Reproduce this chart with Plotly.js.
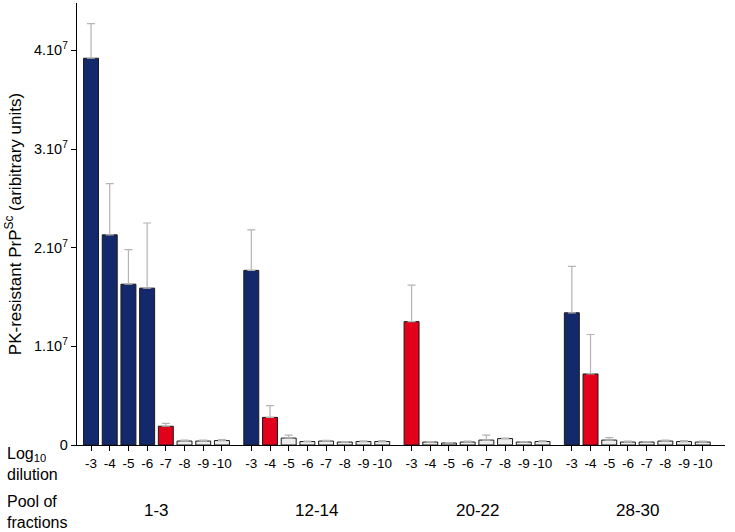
<!DOCTYPE html>
<html>
<head>
<meta charset="utf-8">
<script src="https://cdn.plot.ly/plotly-3.0.1.min.js"></script>
<style>
  body { margin: 0; background: #fff; }
  #chart { width: 735px; height: 532px; }
</style>
</head>
<body>
<div id="chart"></div>
<script>
// pools of fractions and dilutions
const pools = ["1-3", "12-14", "20-22", "28-30"];
const dilutions = ["-3", "-4", "-5", "-6", "-7", "-8", "-9", "-10"];

// PrPSc signal per pool (arbitrary units), one value per dilution
const pool1 = [3.92e7, 2.13e7, 1.63e7, 1.59e7, 0.19e7, 0.04e7, 0.04e7, 0.045e7];
const pool12 = [1.77e7, 0.28e7, 0.07e7, 0.035e7, 0.04e7, 0.03e7, 0.035e7, 0.035e7];
const pool20 = [1.25e7, 0.03e7, 0.02e7, 0.03e7, 0.05e7, 0.065e7, 0.03e7, 0.035e7];
const pool28 = [1.34e7, 0.72e7, 0.05e7, 0.03e7, 0.03e7, 0.04e7, 0.035e7, 0.03e7];

// upper error bars
const err1 = [0.35e7, 0.52e7, 0.35e7, 0.66e7, 0.03e7, 0.01e7, 0.01e7, 0.01e7];
const err12 = [0.41e7, 0.12e7, 0.03e7, 0.005e7, 0.008e7, 0.005e7, 0.008e7, 0.01e7];
const err20 = [0.37e7, 0.005e7, 0.005e7, 0.01e7, 0.05e7, 0.005e7, 0.005e7, 0.01e7];
const err28 = [0.47e7, 0.40e7, 0.025e7, 0.01e7, 0.005e7, 0.01e7, 0.01e7, 0.01e7];

// outcome per bar: b = blue, r = red, g = empty/grey
const class1 = ["b", "b", "b", "b", "r", "g", "g", "g"];
const class12 = ["b", "r", "g", "g", "g", "g", "g", "g"];
const class20 = ["r", "g", "g", "g", "g", "g", "g", "g"];
const class28 = ["b", "r", "g", "g", "g", "g", "g", "g"];

const values = [pool1, pool12, pool20, pool28];
const errors = [err1, err12, err20, err28];
const classes = [class1, class12, class20, class28];

const colorOf = { b: "#14296b", r: "#e2001b", g: "#ececec" };
const groupStep = 8.57;

let xs = [], ys = [], es = [], cols = [], tickText = [];
values.forEach((vals, g) => {
  vals.forEach((v, i) => {
    xs.push(g * groupStep + i);
    ys.push(v);
    es.push(errors[g][i]);
    cols.push(colorOf[classes[g][i]]);
    tickText.push(dilutions[i]);
  });
});

const trace = {
  type: "bar",
  x: xs, y: ys,
  width: 0.8,
  marker: { color: cols, line: { color: "#1a1a1a", width: 1 } },
  error_y: { type: "data", array: es, arrayminus: es.map(() => 0), symmetric: false,
             color: "#b4b4b4", thickness: 1.2, width: 4 },
  hoverinfo: "y"
};

const font = "Liberation Sans, Arial, sans-serif";

let annotations = pools.map((p, g) => ({
  text: p, x: g * groupStep + 3.5, xref: "x", y: -0.149, yref: "paper",
  yanchor: "middle", showarrow: false, font: { family: font, size: 17, color: "#000" }
}));
annotations.push({
  text: "Log<sub>10</sub><br>dilution", x: -0.111, xref: "paper", y: -0.043, yref: "paper",
  xanchor: "left", yanchor: "middle", align: "left", showarrow: false,
  font: { family: font, size: 16, color: "#000" }
});
annotations.push({
  text: "Pool of<br>fractions", x: -0.111, xref: "paper", y: -0.151, yref: "paper",
  xanchor: "left", yanchor: "middle", align: "left", showarrow: false,
  font: { family: font, size: 16, color: "#000" }
});

const layout = {
  width: 735, height: 532,
  margin: { l: 77, r: 10, t: 3, b: 87 },
  paper_bgcolor: "#fff", plot_bgcolor: "#fff",
  showlegend: false,
  font: { family: font, color: "#000" },
  xaxis: {
    range: [-0.75, 33.9],
    tickvals: xs, ticktext: tickText,
    tickfont: { size: 13.5 },
    ticks: "outside", ticklen: 5, tickcolor: "#000",
    showline: true, linecolor: "#000", linewidth: 1.3,
    showgrid: false, zeroline: false
  },
  yaxis: {
    range: [0, 4.48e7],
    tickvals: [0, 1e7, 2e7, 3e7, 4e7],
    ticktext: ["0", "1.10<sup>7</sup>", "2.10<sup>7</sup>", "3.10<sup>7</sup>", "4.10<sup>7</sup>"],
    tickfont: { size: 14.5 },
    ticks: "outside", ticklen: 5, tickcolor: "#000",
    showline: true, linecolor: "#000", linewidth: 1.3,
    showgrid: false, zeroline: false,
    title: { text: "PK-resistant PrP<sup>Sc</sup> (aribitrary units)", font: { size: 17 }, standoff: 8 }
  },
  annotations: annotations
};

Plotly.newPlot("chart", [trace], layout, { displayModeBar: false, staticPlot: true });
</script>
</body>
</html>
